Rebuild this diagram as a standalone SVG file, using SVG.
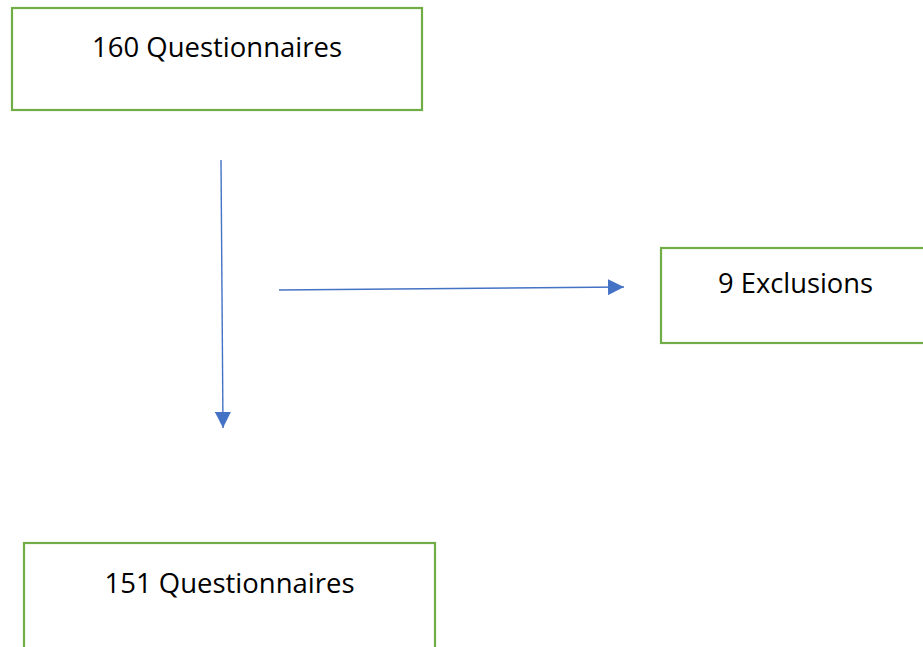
<svg xmlns="http://www.w3.org/2000/svg" width="923" height="647" viewBox="0 0 923 647">
<style>
.box{fill:#FFFFFF;stroke:#70AD47;stroke-width:2.2}
.lbl{font-family:"Open Sans","Noto Sans","Liberation Sans",sans-serif;font-size:27px;fill:#000000;text-anchor:middle}
.conn{stroke:#4472C4;stroke-width:1.4;fill:none}
</style>
<defs>
<marker id="ah" markerUnits="userSpaceOnUse" markerWidth="16" markerHeight="16" viewBox="0 0 15 15" refX="15" refY="7.5" orient="auto">
<path d="M0,0 L15,7.5 L0,15 Z" fill="#4472C4"/>
</marker>
</defs>
<rect width="923" height="647" fill="#FFFFFF"/>
<g id="n1">
<rect class="box" x="12" y="8" width="410" height="102"/>
<text class="lbl" x="217" y="57" textLength="250" lengthAdjust="spacingAndGlyphs">160 Questionnaires</text>
</g>
<g id="n2">
<rect class="box" x="661" y="248" width="270" height="95"/>
<text class="lbl" x="795.5" y="293" textLength="155" lengthAdjust="spacingAndGlyphs">9 Exclusions</text>
</g>
<g id="n3">
<rect class="box" x="24" y="543" width="411" height="120"/>
<text class="lbl" x="229.5" y="593" textLength="250" lengthAdjust="spacingAndGlyphs">151 Questionnaires</text>
</g>
<g id="connectors">
<line class="conn" x1="221" y1="160" x2="223" y2="428" marker-end="url(#ah)"/>
<line class="conn" x1="279" y1="290" x2="624" y2="287" marker-end="url(#ah)"/>
</g>
</svg>
